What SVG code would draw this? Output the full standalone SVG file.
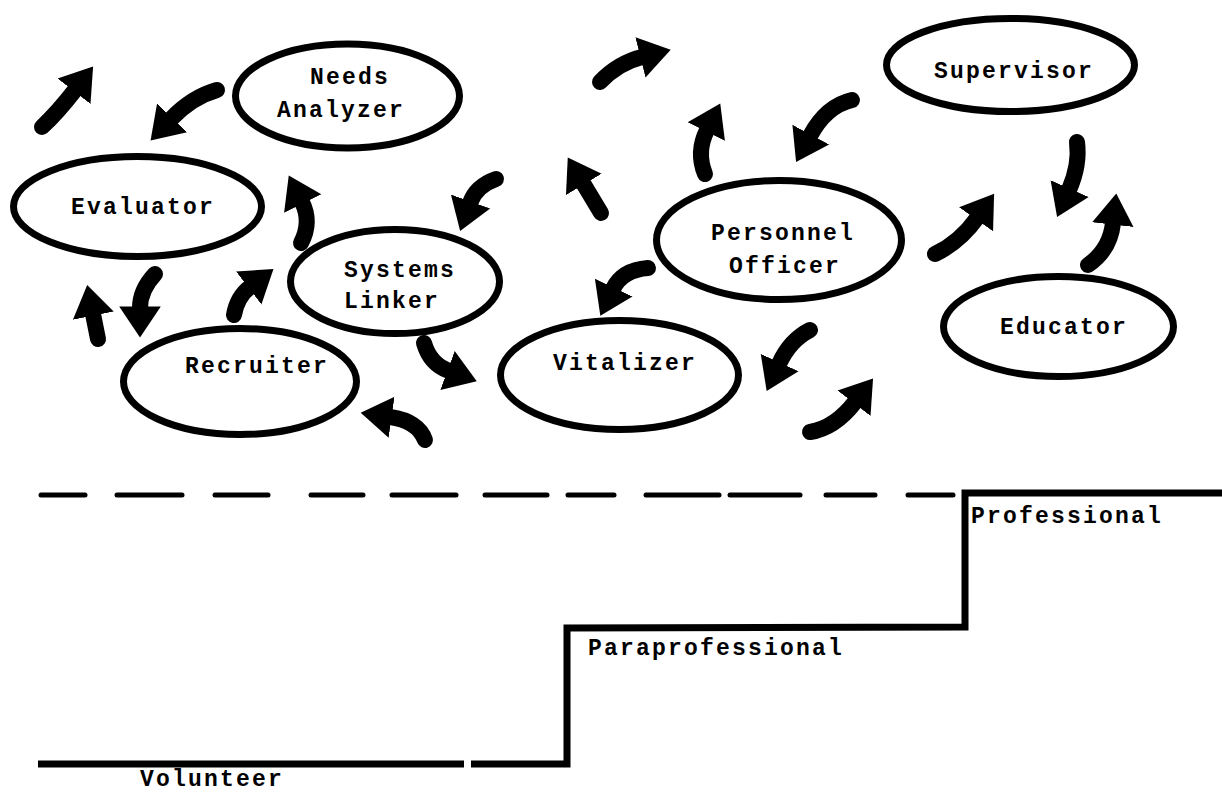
<svg xmlns="http://www.w3.org/2000/svg" width="1222" height="792" viewBox="0 0 1222 792">
<style>
.shape{fill:#fff;stroke:#000;stroke-width:7}
.lbl{font-family:"Liberation Mono","DejaVu Sans Mono",monospace;font-size:23px;font-weight:bold;letter-spacing:2.2px;fill:#000}
.mid{text-anchor:middle}
.arr{fill:none;stroke:#000;stroke-width:16;stroke-linecap:round;marker-end:url(#ah)}
.step{fill:none;stroke:#000;stroke-width:7;stroke-linejoin:miter}
.dash{stroke:#000;stroke-width:5;stroke-linecap:round}
</style>
<defs>
<marker id="ah" viewBox="0 -1.4 2.2 2.8" refX="0.1" refY="0" markerWidth="2.2" markerHeight="2.8" orient="auto" markerUnits="strokeWidth">
<path d="M0,-1.3 L1.95,0 L0,1.3 Z" fill="#000"/>
</marker>
</defs>
<rect width="1222" height="792" fill="#fff"/>

<g id="needs-analyzer">
<ellipse class="shape" cx="347.5" cy="96" rx="112" ry="52"/>
<text class="lbl mid" x="350" y="84">Needs</text>
<text class="lbl mid" x="341" y="117">Analyzer</text>
</g>
<g id="evaluator">
<ellipse class="shape" cx="137.5" cy="206.5" rx="124" ry="50"/>
<text class="lbl mid" x="143" y="214">Evaluator</text>
</g>
<g id="systems-linker">
<ellipse class="shape" cx="395" cy="281.5" rx="104.5" ry="52"/>
<text class="lbl" x="344" y="277">Systems</text>
<text class="lbl" x="344" y="308">Linker</text>
</g>
<g id="recruiter">
<ellipse class="shape" cx="240" cy="381.5" rx="116.5" ry="53"/>
<text class="lbl mid" x="257" y="373">Recruiter</text>
</g>
<g id="vitalizer">
<ellipse class="shape" cx="619.5" cy="375" rx="119" ry="54.5"/>
<text class="lbl mid" x="625" y="370">Vitalizer</text>
</g>
<g id="personnel-officer">
<ellipse class="shape" cx="779" cy="240" rx="122.5" ry="59.5"/>
<text class="lbl mid" x="783" y="240">Personnel</text>
<text class="lbl mid" x="785" y="273">Officer</text>
</g>
<g id="supervisor">
<ellipse class="shape" cx="1010.5" cy="65" rx="124" ry="46.5"/>
<text class="lbl mid" x="1014" y="78">Supervisor</text>
</g>
<g id="educator">
<ellipse class="shape" cx="1058.5" cy="326.5" rx="115" ry="50"/>
<text class="lbl mid" x="1064" y="334">Educator</text>
</g>

<g id="connectors">
<path class="arr" d="M42,127 Q58,112 75,90"/>
<path class="arr" d="M217,90 Q192,97 171,119"/>
<path class="arr" d="M301,243 Q312,222 302,202"/>
<path class="arr" d="M496,179 Q476,186 470,203"/>
<path class="arr" d="M98,339 L93,314"/>
<path class="arr" d="M155,274 Q140,290 140,308"/>
<path class="arr" d="M234,315 Q237,297 250,287"/>
<path class="arr" d="M424,343 Q430,364 449,371"/>
<path class="arr" d="M425,440 Q418,421 390,417"/>
<path class="arr" d="M600,82 Q618,63 642,57"/>
<path class="arr" d="M601,213 L583,183"/>
<path class="arr" d="M705,174 Q696,152 707,130"/>
<path class="arr" d="M852,100 Q826,106 810,136"/>
<path class="arr" d="M648,268 Q622,270 613,289"/>
<path class="arr" d="M810,330 Q790,340 779,364"/>
<path class="arr" d="M810,432 Q835,428 855,402"/>
<path class="arr" d="M935,254 Q960,242 977,218"/>
<path class="arr" d="M1077,142 Q1080,165 1069,190"/>
<path class="arr" d="M1088,265 Q1110,250 1113,223"/>
</g>

<g id="levels">
<line class="dash" x1="41" y1="495" x2="85" y2="495"/>
<line class="dash" x1="117" y1="495" x2="182" y2="495"/>
<line class="dash" x1="215" y1="495" x2="268" y2="495"/>
<line class="dash" x1="311" y1="495" x2="363" y2="495"/>
<line class="dash" x1="392" y1="495" x2="456" y2="495"/>
<line class="dash" x1="485" y1="495" x2="547" y2="495"/>
<line class="dash" x1="568" y1="495" x2="614" y2="495"/>
<line class="dash" x1="646" y1="495" x2="719" y2="495"/>
<line class="dash" x1="730" y1="495" x2="800" y2="495"/>
<line class="dash" x1="826" y1="495" x2="875" y2="495"/>
<line class="dash" x1="908" y1="495" x2="953" y2="495"/>
<polyline class="step" points="1222,493 965,493 965,627 567,628 567,764 471,764"/>
<line class="step" x1="38" y1="764" x2="464" y2="764"/>
<text class="lbl" x="140" y="786">Volunteer</text>
<text class="lbl" x="971" y="523">Professional</text>
<text class="lbl" x="588" y="655">Paraprofessional</text>
</g>
</svg>
